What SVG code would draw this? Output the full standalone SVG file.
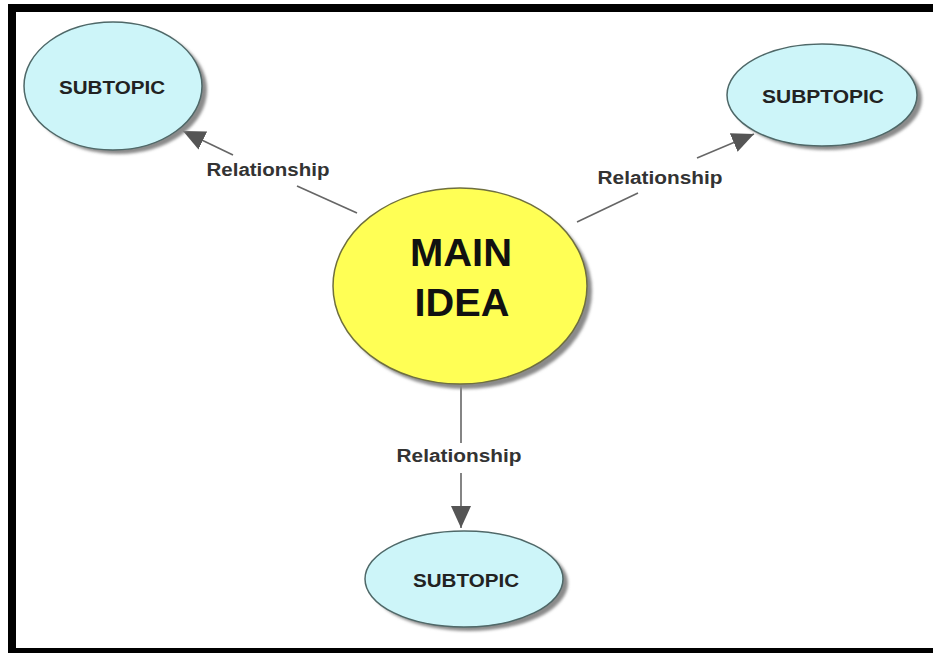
<svg xmlns="http://www.w3.org/2000/svg" width="933" height="653" viewBox="0 0 933 653">
<defs>
<marker id="arr" markerUnits="userSpaceOnUse" markerWidth="24" markerHeight="22" refX="22" refY="10" orient="auto">
<path d="M0,0 L22,10 L0,20 Z" fill="#555"/>
</marker>
<filter id="blur" x="-20%" y="-20%" width="140%" height="140%"><feGaussianBlur stdDeviation="1.5"/></filter>
</defs>
<style>
.sub{fill:#cdf5f9;stroke:#4f6868;stroke-width:1.5}
.shadow{fill:#8a8a8a;filter:url(#blur)}
.main{fill:#ffff55;stroke:#6f6f3f;stroke-width:1.5}
.lbl{font-family:"Liberation Sans",Arial,sans-serif;font-weight:bold;font-size:18px;fill:#333;text-anchor:middle}
.st{font-family:"Liberation Sans",Arial,sans-serif;font-weight:bold;font-size:18px;fill:#222;text-anchor:middle}
.mt{font-family:"Liberation Sans",Arial,sans-serif;font-weight:bold;font-size:38px;fill:#111;text-anchor:middle}
.ln{stroke:#666;stroke-width:1.6;fill:none}
</style>
<rect width="933" height="653" fill="#fff"/>
<rect x="8" y="4" width="925" height="8" fill="#000"/>
<rect x="8" y="4" width="8" height="649" fill="#000"/>
<rect x="8" y="648" width="925" height="5" fill="#000"/>

<g id="connectors">
<line class="ln" x1="357" y1="213" x2="297" y2="186"/>
<line class="ln" x1="233" y1="155" x2="183" y2="131" marker-end="url(#arr)"/>
<line class="ln" x1="577" y1="222" x2="638" y2="193"/>
<line class="ln" x1="697" y1="158" x2="754" y2="134" marker-end="url(#arr)"/>
<line class="ln" x1="461" y1="385" x2="461" y2="443"/>
<line class="ln" x1="461" y1="473" x2="461" y2="528" marker-end="url(#arr)"/>
</g>
<g id="labels">
<text class="lbl" x="268" y="176" textLength="123" lengthAdjust="spacingAndGlyphs">Relationship</text>
<text class="lbl" x="660" y="184" textLength="125" lengthAdjust="spacingAndGlyphs">Relationship</text>
<text class="lbl" x="459" y="462" textLength="125" lengthAdjust="spacingAndGlyphs">Relationship</text>
</g>

<g id="subtopic-left">
<ellipse class="shadow" cx="118" cy="90" rx="89" ry="64"/>
<ellipse class="sub" cx="113" cy="86" rx="89" ry="64"/>
<text class="st" x="112" y="94" textLength="106" lengthAdjust="spacingAndGlyphs">SUBTOPIC</text>
</g>
<g id="subtopic-right">
<ellipse class="shadow" cx="827" cy="99" rx="95" ry="51"/>
<ellipse class="sub" cx="822" cy="95" rx="95" ry="51"/>
<text class="st" x="823" y="103" textLength="122" lengthAdjust="spacingAndGlyphs">SUBPTOPIC</text>
</g>
<g id="main-idea">
<ellipse class="shadow" cx="465" cy="291" rx="127" ry="98"/>
<ellipse class="main" cx="460" cy="286" rx="127" ry="98"/>
<text class="mt" x="461" y="266" textLength="102" lengthAdjust="spacingAndGlyphs">MAIN</text>
<text class="mt" x="462" y="316" textLength="95" lengthAdjust="spacingAndGlyphs">IDEA</text>
</g>
<g id="subtopic-bottom">
<ellipse class="shadow" cx="469" cy="583" rx="99" ry="48"/>
<ellipse class="sub" cx="464" cy="579" rx="99" ry="48"/>
<text class="st" x="466" y="587" textLength="106" lengthAdjust="spacingAndGlyphs">SUBTOPIC</text>
</g>
</svg>
